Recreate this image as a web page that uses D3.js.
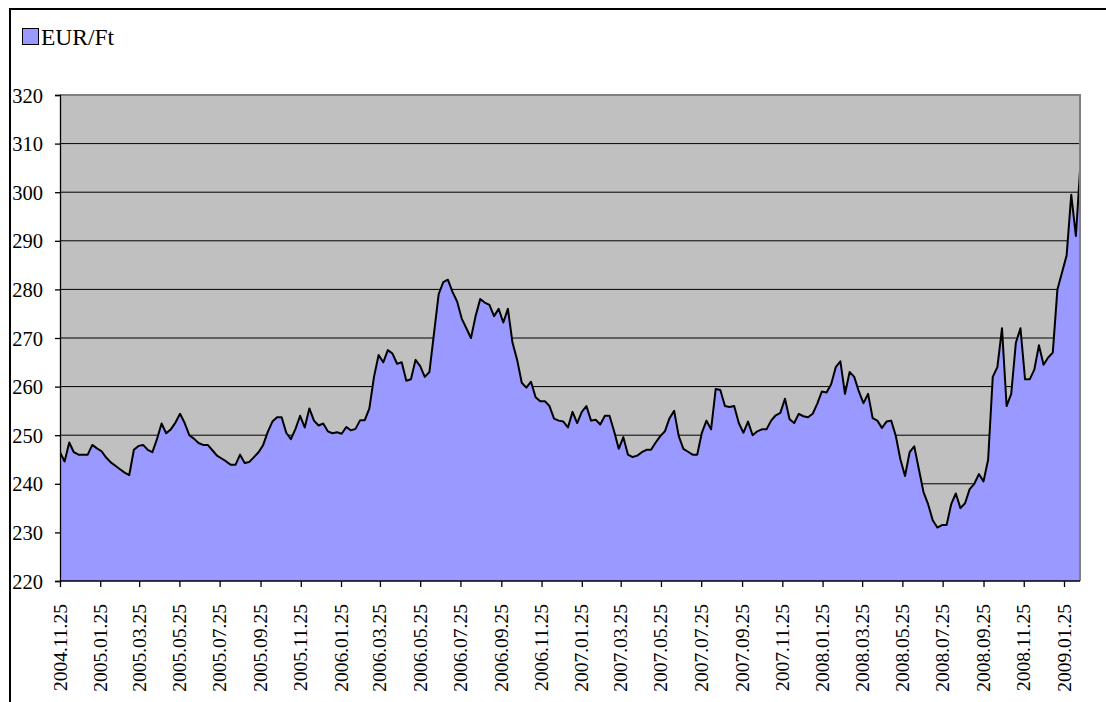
<!DOCTYPE html>
<html>
<head>
<meta charset="utf-8">
<script src="https://cdn.jsdelivr.net/npm/d3@7"></script>
<style>
  body { margin: 0; background: #fff; }
  svg text { font-family: "Liberation Serif", "DejaVu Serif", serif !important; fill: #000; }
</style>
</head>
<body>
<svg id="chart"></svg>
<script>
// series name shown in the legend
var seriesName = "EUR/Ft";

// first week of the series, one value per week after that
var firstDay = "2004.11.25";

// weekly EUR/HUF rates
var rates = [
  246.5, 244.6, 248.5, 246.5, 246.0, 246.0, 246.0, 248.0, 247.3, 246.7,
  245.4, 244.4, 243.7, 243.0, 242.3, 241.8, 247.0, 247.8, 248.0, 247.0,
  246.5, 249.2, 252.4, 250.4, 251.2, 252.6, 254.4, 252.5, 250.0, 249.3,
  248.4, 248.0, 248.0, 246.9, 245.8, 245.2, 244.6, 243.9, 243.9, 246.0,
  244.3, 244.5, 245.5, 246.5, 248.0, 250.7, 252.8, 253.7, 253.7, 250.5,
  249.2, 251.3, 254.0, 251.6, 255.5, 253.0, 252.0, 252.4, 250.8, 250.4,
  250.6, 250.3, 251.7, 251.0, 251.3, 253.1, 253.1, 255.5, 262.0, 266.5,
  265.0, 267.5, 266.8, 264.7, 265.0, 261.2, 261.5, 265.5, 264.2, 262.0,
  263.0, 271.0, 279.0, 281.5, 282.0, 279.5, 277.5, 274.0, 272.0, 270.0,
  274.5, 278.0, 277.3, 276.8, 274.5, 276.0, 273.2, 276.0, 269.0, 265.5,
  260.8, 259.8, 261.0, 257.8, 257.0, 257.0, 256.0, 253.4, 253.0, 252.8,
  251.6, 254.8, 252.5, 254.8, 256.0, 253.0, 253.2, 252.2, 254.0, 254.0,
  250.8, 247.2, 249.6, 246.0, 245.5, 245.8, 246.5, 247.0, 247.0, 248.5,
  249.8, 250.8, 253.5, 255.0, 249.8, 247.2, 246.6, 246.0, 246.0, 250.5,
  253.0, 251.2, 259.5, 259.3, 256.0, 255.8, 256.0, 252.5, 250.5, 252.8,
  250.0, 250.8, 251.2, 251.2, 253.0, 254.1, 254.6, 257.5, 253.3, 252.5,
  254.4, 253.9, 253.7, 254.4, 256.5, 259.0, 258.8, 260.5, 264.0, 265.2,
  258.5, 263.0, 262.0, 259.0, 256.6, 258.5, 253.5, 253.0, 251.5, 252.8,
  253.0, 249.9, 245.0, 241.6, 246.5, 247.7, 243.0, 238.3, 235.8, 232.5,
  231.0, 231.5, 231.5, 235.8, 238.0, 235.0, 236.0, 238.9, 240.0, 242.0,
  240.5, 245.0, 262.0, 264.0, 272.0, 256.0, 258.5, 269.0, 272.0, 261.5,
  261.5, 263.5, 268.5, 264.5, 266.0, 267.0, 280.0, 283.5, 287.0, 299.5,
  291.0, 306.0
];

// category labels under the x axis
var xLabels = [
  "2004.11.25", "2005.01.25", "2005.03.25", "2005.05.25", "2005.07.25",
  "2005.09.25", "2005.11.25", "2006.01.25", "2006.03.25", "2006.05.25",
  "2006.07.25", "2006.09.25", "2006.11.25", "2007.01.25", "2007.03.25",
  "2007.05.25", "2007.07.25", "2007.09.25", "2007.11.25", "2008.01.25",
  "2008.03.25", "2008.05.25", "2008.07.25", "2008.09.25", "2008.11.25",
  "2009.01.25"
];

// value axis
var yTicks = [220, 230, 240, 250, 260, 270, 280, 290, 300, 310, 320];

var w = 1106;
var h = 702;
var plot = { left: 60, right: 1080, top: 95, bottom: 581 };
var serif = "'Liberation Serif', 'DejaVu Serif', serif";

var parse = d3.timeParse("%Y.%m.%d");
var start = parse(firstDay);

var data = rates.map(function(v, i) {
  return { date: d3.timeDay.offset(start, i * 7), value: v };
});

var svg = d3.select("#chart")
  .attr("width", w)
  .attr("height", h);

var xScale = d3.scaleTime()
  .domain([parse(xLabels[0]), parse(xLabels[xLabels.length - 1])])
  .range([plot.left, 1064]);

var yScale = d3.scaleLinear()
  .domain([yTicks[0], yTicks[yTicks.length - 1]])
  .range([plot.bottom, plot.top]);

// outer chart frame (runs off the picture on the right and bottom)
svg.append("rect")
  .attr("x", 10)
  .attr("y", 9)
  .attr("width", 1200)
  .attr("height", 800)
  .attr("fill", "#fff")
  .attr("stroke", "#000")
  .attr("stroke-width", 2);

// plot background
svg.append("rect")
  .attr("x", plot.left)
  .attr("y", plot.top)
  .attr("width", plot.right - plot.left)
  .attr("height", plot.bottom - plot.top)
  .attr("fill", "#c0c0c0");

// gridlines
svg.selectAll(".grid")
  .data(yTicks.slice(1, -1))
  .enter()
  .append("line")
  .attr("class", "grid")
  .attr("x1", plot.left)
  .attr("x2", plot.right)
  .attr("y1", function(d) { return yScale(d); })
  .attr("y2", function(d) { return yScale(d); })
  .attr("stroke", "#000")
  .attr("stroke-width", 1);

svg.append("clipPath")
  .attr("id", "clip")
  .append("rect")
  .attr("x", plot.left)
  .attr("y", plot.top)
  .attr("width", plot.right - plot.left)
  .attr("height", plot.bottom - plot.top);

var area = d3.area()
  .x(function(d) { return xScale(d.date); })
  .y0(plot.bottom)
  .y1(function(d) { return yScale(d.value); });

var line = d3.line()
  .x(function(d) { return xScale(d.date); })
  .y(function(d) { return yScale(d.value); });

var g = svg.append("g").attr("clip-path", "url(#clip)");

g.append("path")
  .datum(data)
  .attr("d", area)
  .attr("fill", "#9999ff");

g.append("path")
  .datum(data)
  .attr("d", line)
  .attr("fill", "none")
  .attr("stroke", "#000")
  .attr("stroke-width", 2)
  .attr("stroke-linejoin", "round");

// plot border top and right
svg.append("path")
  .attr("d", "M" + plot.left + "," + plot.top + "H" + plot.right + "V" + plot.bottom)
  .attr("fill", "none")
  .attr("stroke", "#808080")
  .attr("stroke-width", 2);

// y axis
var yAxis = d3.axisLeft(yScale)
  .tickValues(yTicks)
  .tickSize(5)
  .tickPadding(12);

var ya = svg.append("g")
  .attr("transform", "translate(" + plot.left + ",0)")
  .call(yAxis);
ya.attr("font-family", null);
ya.selectAll("text")
  .style("font-family", serif)
  .style("font-size", "20.5px")
  .attr("dy", "0.35em");

// x axis with rotated labels
var xAxis = d3.axisBottom(xScale)
  .tickValues(xLabels.map(parse))
  .tickSize(6)
  .tickFormat(function(d, i) { return xLabels[i]; });

var xa = svg.append("g")
  .attr("transform", "translate(0," + plot.bottom + ")")
  .call(xAxis);
xa.attr("font-family", null);
xa.select(".domain").attr("d", "M" + plot.left + ",0H" + plot.right);
xa.selectAll("text")
  .style("font-family", serif)
  .style("font-size", "19.5px")
  .attr("text-anchor", "end")
  .attr("dy", "0")
  .attr("y", 0)
  .attr("transform", "translate(6,23) rotate(-90)");

svg.selectAll(".domain, .tick line")
  .attr("stroke", "#000")
  .attr("stroke-width", 1.3);

// legend
svg.append("rect")
  .attr("x", 22.5)
  .attr("y", 28.5)
  .attr("width", 16)
  .attr("height", 16)
  .attr("fill", "#9999ff")
  .attr("stroke", "#000")
  .attr("stroke-width", 1);

svg.append("text")
  .text(seriesName)
  .attr("x", 41)
  .attr("y", 45)
  .style("font-family", serif)
  .style("font-size", "23.5px");
</script>
</body>
</html>
